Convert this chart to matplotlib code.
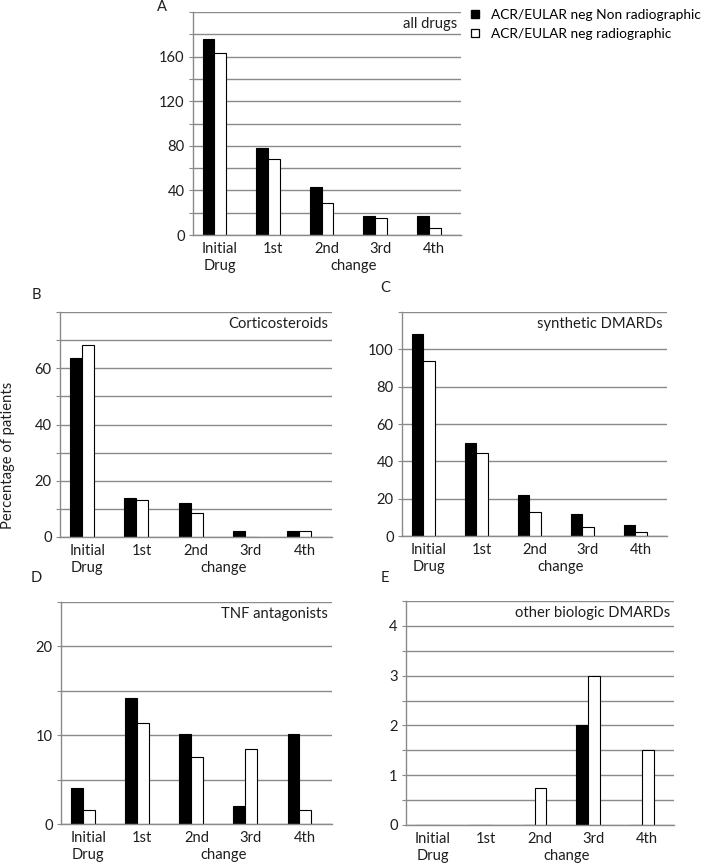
import matplotlib
matplotlib.use("Agg")
import matplotlib.pyplot as plt
import numpy as np
from matplotlib.lines import Line2D

plt.rcParams['font.family'] = ['Lato', 'DejaVu Sans']
plt.rcParams['font.size'] = 10.6

categories = ["Initial", "1st", "2nd", "3rd", "4th"]
second_row = ["Drug", "change"]
series_names = ["ACR/EULAR neg Non radiographic", "ACR/EULAR neg radiographic"]

all_non = [176, 78, 43, 17, 17]
all_rad = [163, 68, 29, 15, 6]
cort_non = [63.5, 13.7, 12.0, 2.0, 2.0]
cort_rad = [68.2, 13.0, 8.6, 0, 2.3]
synth_non = [108, 50, 22, 12, 6]
synth_rad = [93.5, 44.5, 13, 4.8, 2.1]
tnf_non = [4.1, 14.2, 10.1, 2.0, 10.1]
tnf_rad = [1.6, 11.4, 7.6, 8.4, 1.6]
bio_non = [0, 0, 0, 2, 0]
bio_rad = [0, 0, 0.75, 3, 1.5]

GRID = '#8a8a8a'
TXT = '#1e1e1e'

fig = plt.figure(figsize=(7.08, 8.67), dpi=100)
W, H = 708, 867


def add_axes(left, right, top, bottom):
    return fig.add_axes([left / W, 1 - bottom / H, (right - left) / W, (bottom - top) / H])


def panel(ax, non, rad, ymax, step, label_step, title, letter, lx, ly):
    x = np.arange(len(categories))
    w = 0.22
    ax.bar(x - 0.21, non, w, color='black', edgecolor='black', linewidth=0.8)
    ax.bar(x + 0.01, rad, w, color='white', edgecolor='black', linewidth=0.8)
    ax.set_xlim(-0.5, len(categories) - 0.5)
    ax.set_ylim(0, ymax)
    ticks = np.arange(0, ymax + step / 2, step)
    labels = []
    for t in ticks:
        on_label = abs(t / label_step - round(t / label_step)) < 1e-6
        if on_label and t < ymax - step / 2:
            labels.append('%d' % round(t))
        else:
            labels.append('')
    ax.set_yticks(ticks)
    ax.set_yticklabels(labels)
    ax.yaxis.grid(True, color=GRID, linewidth=1.0)
    ax.set_axisbelow(True)
    ax.tick_params(axis='y', length=3, color=GRID, pad=3, labelcolor=TXT)
    ax.set_xticks(x)
    ax.set_xticklabels(categories)
    ax.tick_params(axis='x', length=0, pad=5, labelcolor=TXT)
    # second row of x labels: "Drug" under "Initial", "change" between 2nd and 3rd
    sec = ax.secondary_xaxis(0)
    sec.set_xticks([0, 2.5])
    sec.set_xticklabels(second_row)
    sec.tick_params(length=0, pad=17, labelcolor=TXT)
    sec.spines['bottom'].set_visible(False)
    for s in ['top', 'right']:
        ax.spines[s].set_visible(False)
    for s in ['left', 'bottom']:
        ax.spines[s].set_color(GRID)
        ax.spines[s].set_linewidth(1.0)
    ax.text(0.985, 1 - 0.055, title, transform=ax.transAxes, ha='right', va='center',
            color=TXT, clip_on=False)
    fig.text(lx / W, 1 - ly / H, letter, ha='center', va='center', color=TXT)


axA = add_axes(193, 461, 12, 235)
panel(axA, all_non, all_rad, 200, 20, 40, 'all drugs', 'A', 162, 7)
axB = add_axes(60, 332, 312, 537)
panel(axB, cort_non, cort_rad, 80, 10, 20, 'Corticosteroids', 'B', 36, 295)
axC = add_axes(402, 667, 312, 536)
panel(axC, synth_non, synth_rad, 120, 20, 20, 'synthetic DMARDs', 'C', 385, 288)
axD = add_axes(61, 332, 602, 824)
panel(axD, tnf_non, tnf_rad, 25, 5, 10, 'TNF antagonists', 'D', 36, 578)
axE = add_axes(406, 674, 601, 825)
panel(axE, bio_non, bio_rad, 4.5, 0.5, 1, 'other biologic DMARDs', 'E', 385, 578)

fig.text(8 / W, 1 - 455 / H, 'Percentage of patients', rotation=90, ha='center', va='center',
         color=TXT)

handles = [
    Line2D([], [], linestyle='none', marker='s', markersize=5.5, markerfacecolor='black',
           markeredgecolor='black'),
    Line2D([], [], linestyle='none', marker='s', markersize=5.5, markerfacecolor='white',
           markeredgecolor='black', markeredgewidth=0.9),
]
fig.legend(handles, series_names, loc='upper left', bbox_to_anchor=(468 / W, 1 - 9 / H),
           frameon=False, handlelength=1.0, handletextpad=0.7, labelspacing=0.5,
           borderaxespad=0, borderpad=0, fontsize=9.9)

fig.savefig('out.png', dpi=100)
